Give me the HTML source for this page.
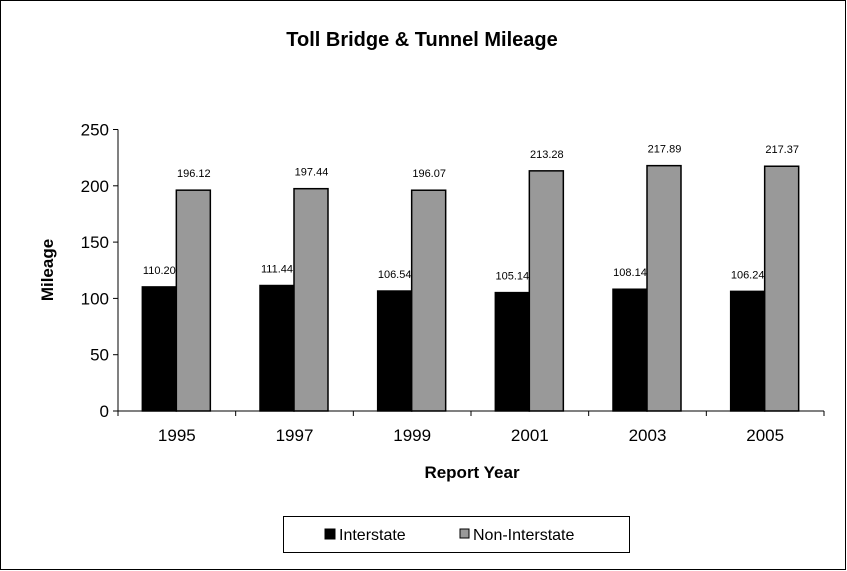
<!DOCTYPE html>
<html><head><meta charset="utf-8"><style>
body{margin:0;background:#fff;}
svg{display:block;font-family:"Liberation Sans",Arial,sans-serif;}
</style></head><body>
<svg width="847" height="571" viewBox="0 0 847 571">
<rect x="0.5" y="0.5" width="845" height="569" fill="#fff" stroke="#000"/>
<text x="422" y="46" text-anchor="middle" font-size="20" font-weight="bold">Toll Bridge &amp; Tunnel Mileage</text>
<text transform="translate(53,270) rotate(-90)" text-anchor="middle" font-size="17" font-weight="bold">Mileage</text>
<text x="472" y="478" text-anchor="middle" font-size="17" font-weight="bold">Report Year</text>
<g id="plot"></g>
<g>
<rect x="283.5" y="516.5" width="346" height="36" fill="#fff" stroke="#000"/>
<rect x="325" y="529" width="10" height="10" fill="#000" stroke="#000"/>
<text x="339" y="540" font-size="16">Interstate</text>
<rect x="460" y="529" width="9" height="9" fill="#999" stroke="#000"/>
<text x="473" y="540" font-size="16">Non-Interstate</text>
</g>
</svg>
<script>
const categories=["1995","1997","1999","2001","2003","2005"];
const interstate=[110.20,111.44,106.54,105.14,108.14,106.24];
const nonInterstate=[196.12,197.44,196.07,213.28,217.89,217.37];
const yTicks=[0,50,100,150,200,250];
const NS="http://www.w3.org/2000/svg";
const g=document.getElementById('plot');
const x0=118,x1=824,y0=411,yTop=129.5,yMax=250;
const cw=(x1-x0)/categories.length;
function y(v){return y0-(v/yMax)*(y0-yTop);}
function mk(t,a){const e=document.createElementNS(NS,t);for(const k in a)e.setAttribute(k,a[k]);g.appendChild(e);return e;}
// axes
let ax=mk('line',{x1:x0,y1:yTop,x2:x0,y2:y0,stroke:'#000'});


let bx=mk('line',{x1:x0-5,y1:y0,x2:x1,y2:y0,stroke:'#000'});


yTicks.forEach(t=>{
 const l=mk('line',{x1:x0-5,y1:y(t),x2:x0,y2:y(t),stroke:'#000'});
 
 
 const tx=mk('text',{x:x0-9,y:y(t)+6,'text-anchor':'end','font-size':17});
 tx.textContent=t;
 
 
});
for(let i=0;i<=categories.length;i++){
 const l=mk('line',{x1:x0+i*cw,y1:y0,x2:x0+i*cw,y2:y0+5,stroke:'#000'});
 
 
}
const bw=34;
categories.forEach((c,i)=>{
 const cx=x0+i*cw+cw/2;
 const tx=mk('text',{x:cx,y:y0+30,'text-anchor':'middle','font-size':17});
 tx.textContent=c;
 
 
 const bxs=cx-bw-0.5;
 const b1=mk('rect',{x:bxs,y:y(interstate[i]),width:bw,height:y0-y(interstate[i]),fill:'#000',stroke:'#000','stroke-width':1.5});
 
 
 const b2=mk('rect',{x:cx-0.5,y:y(nonInterstate[i]),width:bw,height:y0-y(nonInterstate[i]),fill:'#999',stroke:'#000','stroke-width':1.5});
 
 
 const l1=mk('text',{x:bxs+bw/2,y:y(interstate[i])-13,'text-anchor':'middle','font-size':11});
 l1.textContent=interstate[i].toFixed(2);
 
 
 const l2=mk('text',{x:cx+bw/2,y:y(nonInterstate[i])-13,'text-anchor':'middle','font-size':11});
 l2.textContent=nonInterstate[i].toFixed(2);
 
 
});
</script>
</body></html>
